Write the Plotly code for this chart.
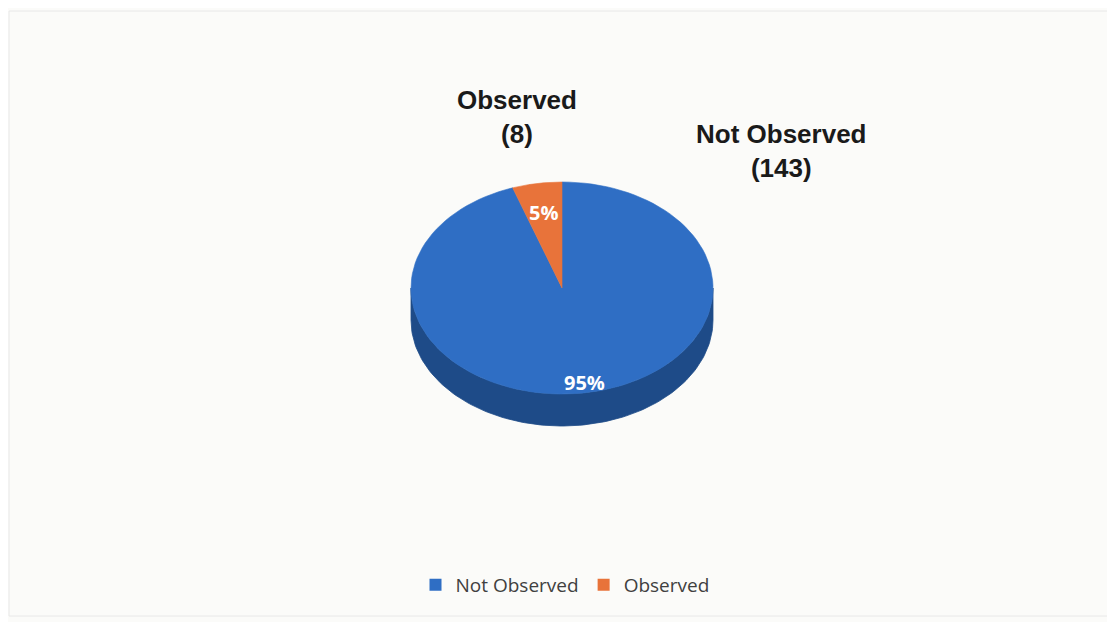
import numpy as np
import plotly.graph_objects as go

# ---- data ----
categories = ["Not Observed", "Observed"]
counts = [143, 8]

# ---- style ----
top_colors = ["#2F6EC4", "#E8733A"]
side_colors = ["#1E4B88", "#A9522B"]
pct_radial = [0.9, 0.72]          # where the % text sits inside each slice
outside_label_xy = [(781, 151), (517, 117)]  # page-pixel positions of the outside labels

W, H = 1115, 622
OFF = 8   # browser body margin
cx, cy, rx, ry, depth = 562, 288, 151, 106, 32

total = sum(counts)
fracs = [c / total for c in counts]


def arc(a, b, dy=0.0, n=120):
    t = np.radians(np.linspace(a, b, n))
    return cx + rx * np.cos(t), cy - ry * np.sin(t) + dy


fig = go.Figure()

# slice angular ranges: start at 12 o'clock, go clockwise
slices = []
start = 90.0
for cat, f in zip(categories, fracs):
    end = start - f * 360.0
    slices.append((start, end))
    start = end

# ---- side (thickness) of the tilted pie: only the front half is visible ----
for (a, b), cs in zip(slices, side_colors):
    hi, lo = max(a, b), min(a, b)
    for k in range(-2, 3):
        f_lo, f_hi = -180 + 360 * k, 0 + 360 * k
        s_lo, s_hi = max(lo, f_lo), min(hi, f_hi)
        if s_hi > s_lo:
            x1, y1 = arc(s_hi, s_lo, 0)
            x2, y2 = arc(s_lo, s_hi, depth)
            xs = np.concatenate([x1, x2, x1[:1]])
            ys = np.concatenate([y1, y2, y1[:1]])
            fig.add_trace(go.Scatter(x=xs, y=ys, mode="lines", fill="toself",
                                     fillcolor=cs, line=dict(color=cs, width=0.8),
                                     hoverinfo="skip", showlegend=False))

# ---- top faces ----
for (a, b), ct, cat, cnt in zip(slices, top_colors, categories, counts):
    ax_, ay_ = arc(a, b, 0)
    xs = np.concatenate([[cx], ax_, [cx]])
    ys = np.concatenate([[cy], ay_, [cy]])
    fig.add_trace(go.Scatter(x=xs, y=ys, mode="lines", fill="toself",
                             fillcolor=ct, line=dict(color=ct, width=0.6),
                             name=cat, hovertemplate=f"{cat}: {cnt}<extra></extra>",
                             showlegend=False))

# ---- legend entries ----
for cat, ct in zip(categories, top_colors):
    fig.add_trace(go.Scatter(x=[None], y=[None], mode="markers", name=cat,
                             marker=dict(symbol="square", size=12, color=ct)))

annotations = []
# percentage labels
for (a, b), f, r in zip(slices, fracs, pct_radial):
    mid = np.radians((a + b) / 2)
    px = cx + r * rx * np.cos(mid)
    py = cy - r * ry * np.sin(mid)
    annotations.append(dict(x=px, y=py, xref="x", yref="y", showarrow=False,
                            text=f"<b>{round(f * 100)}%</b>",
                            font=dict(family="Open Sans", size=20, color="white")))
# outside category labels
for cat, cnt, (lx, ly) in zip(categories, counts, outside_label_xy):
    annotations.append(dict(x=lx, y=ly, xref="x", yref="y", showarrow=False,
                            text=f"<b>{cat}<br>({cnt})</b>", align="center",
                            font=dict(family="Liberation Sans, Arial", size=26, color="#1a1a1a")))

PW, PH = W - OFF, H - OFF
fig.update_layout(
    width=PW, height=PH, autosize=False,
    margin=dict(l=0, r=0, t=0, b=0),
    paper_bgcolor="#FBFBF9", plot_bgcolor="rgba(0,0,0,0)",
    xaxis=dict(range=[OFF, W], visible=False, fixedrange=True),
    yaxis=dict(range=[H, OFF], visible=False, fixedrange=True),
    annotations=annotations,
    showlegend=True,
    legend=dict(orientation="h", x=(565 - OFF) / PW, xanchor="center",
                y=(PH - (585 - OFF)) / PH, yanchor="middle",
                font=dict(family="Open Sans", size=19, color="#404040"),
                bgcolor="rgba(0,0,0,0)", itemclick=False, itemdoubleclick=False),
    shapes=[dict(type="rect", xref="x", yref="y", x0=9, y0=11, x1=1109, y1=616,
                 line=dict(color="#E8E8E8", width=1), layer="below")],
)

fig.write_html("out.html", config={"displayModeBar": False})
